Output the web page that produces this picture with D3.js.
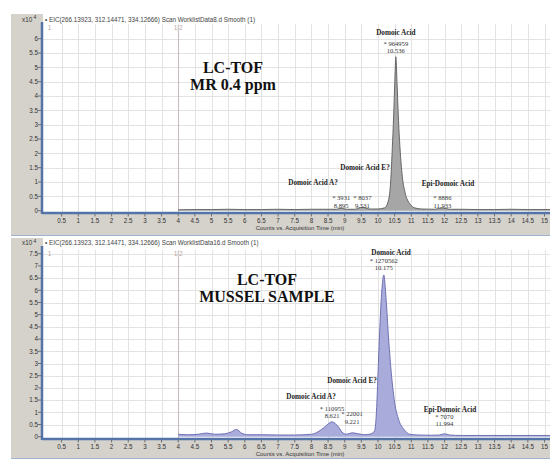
<!DOCTYPE html>
<html>
<head>
<meta charset="utf-8">
<script src="https://d3js.org/d3.v7.min.js"></script>
<style>
  body { margin: 0; background: #fff; }
  text { font-family: "Liberation Sans", Arial, sans-serif; }
  .serif { font-family: "Liberation Serif", "Times New Roman", serif; }
</style>
</head>
<body>
<svg width="550" height="459"></svg>
<script>

// chromatogram traces, time in min, counts in x10^4
var topTimes  = [4.0, 4.5, 5.0, 5.5, 6.0, 6.5, 7.0, 7.5, 8.0, 8.5, 8.75, 8.895, 9.05, 9.3, 9.531, 9.75, 10.0, 10.2, 10.3, 10.38, 10.43, 10.47, 10.505, 10.536, 10.57, 10.61, 10.66, 10.73, 10.82, 10.95, 11.1, 11.3, 11.7, 11.933, 12.15, 12.5, 13.0, 13.5, 14.0, 14.5, 15.2];
var topCounts = [0.03, 0.04, 0.04, 0.05, 0.04, 0.04, 0.05, 0.04, 0.05, 0.05, 0.05, 0.09, 0.05, 0.05, 0.12, 0.06, 0.06, 0.1, 0.3, 1.0, 2.2, 3.3, 4.5, 5.37, 4.5, 3.3, 2.2, 1.2, 0.6, 0.25, 0.1, 0.06, 0.05, 0.1, 0.05, 0.05, 0.04, 0.04, 0.05, 0.04, 0.04];

var bottomTimes  = [4.0, 4.3, 4.6, 4.85, 5.1, 5.4, 5.6, 5.75, 5.9, 6.1, 6.5, 7.0, 7.5, 8.0, 8.2, 8.4, 8.621, 8.8, 8.95, 9.05, 9.221, 9.4, 9.6, 9.8, 9.9, 9.96, 10.0, 10.04, 10.1, 10.175, 10.24, 10.32, 10.4, 10.5, 10.62, 10.78, 10.95, 11.2, 11.6, 11.85, 11.994, 12.15, 12.5, 13.0, 14.0, 15.2];
var bottomCounts = [0.1, 0.08, 0.1, 0.15, 0.1, 0.12, 0.2, 0.3, 0.15, 0.08, 0.08, 0.07, 0.07, 0.1, 0.2, 0.4, 0.61, 0.42, 0.15, 0.1, 0.16, 0.12, 0.08, 0.12, 0.25, 1.2, 2.6, 4.0, 5.7, 6.63, 5.7, 4.0, 2.6, 1.4, 0.7, 0.3, 0.1, 0.07, 0.06, 0.07, 0.12, 0.07, 0.05, 0.05, 0.05, 0.05];

// peak names, where they sit (time, counts)
var peakNames = ["Domoic Acid", "Domoic Acid E?", "Domoic Acid A?", "Epi-Domoic Acid"];
var topNameTimes = [10.536, 9.61, 8.05, 12.1];
var topNameLevels = [6.13, 1.42, 0.9, 0.86];
var bottomNameTimes = [10.39, 9.22, 7.99, 12.16];
var bottomNameLevels = [7.45, 2.2, 1.55, 1.0];

// integrated peaks: retention time, area, level of the RT label
var topPeakTimes = [8.895, 9.531, 10.536, 11.933];
var topPeakAreas = [3931, 8037, 964959, 8886];
var topPeakLevels = [0.11, 0.11, 5.5, 0.11];
var bottomPeakTimes = [8.621, 9.221, 10.175, 11.994];
var bottomPeakAreas = [110955, 22001, 1270562, 7070];
var bottomPeakLevels = [0.75, 0.54, 6.83, 0.42];

var xTickValues = [0.5, 1, 1.5, 2, 2.5, 3, 3.5, 4, 4.5, 5, 5.5, 6, 6.5, 7, 7.5, 8, 8.5, 9, 9.5, 10, 10.5, 11, 11.5, 12, 12.5, 13, 13.5, 14, 14.5, 15];
var topYTicks = [0, 0.5, 1, 1.5, 2, 2.5, 3, 3.5, 4, 4.5, 5, 5.5, 6];
var bottomYTicks = [0, 0.5, 1, 1.5, 2, 2.5, 3, 3.5, 4, 4.5, 5, 5.5, 6, 6.5, 7, 7.5];

var topTitle = "\u2022 EIC(266.13923, 312.14471, 334.12666) Scan WorklistData8.d  Smooth (1)";
var bottomTitle = "\u2022 EIC(266.13923, 312.14471, 334.12666) Scan WorklistData16.d  Smooth (1)";

var svg = d3.select("svg");
var x = d3.scaleLinear().domain([0, 15]).range([45, 544.5]);

var axisBlue = "#5474a8";

function drawPanel(p) {
  var g = svg.append("g");
  var y = p.y;

  // gray frame and white plot
  g.append("rect").attr("x", 11).attr("y", p.frameTop).attr("width", 539).attr("height", p.frameBottom - p.frameTop)
    .attr("fill", "#d5d2cc");
  g.append("rect").attr("x", 43).attr("y", p.frameTop).attr("width", 507).attr("height", p.axisY - p.frameTop)
    .attr("fill", "#fff");
  g.append("line").attr("x1", 11).attr("x2", 550).attr("y1", p.frameBottom - 0.5).attr("y2", p.frameBottom - 0.5)
    .attr("stroke", "#9fb2d2").attr("stroke-width", 1);

  // grid
  g.selectAll(".vg").data(xTickValues).enter().append("line")
    .attr("x1", function(d) { return Math.round(x(d)) + 0.5; })
    .attr("x2", function(d) { return Math.round(x(d)) + 0.5; })
    .attr("y1", p.gridTop).attr("y2", p.axisY)
    .attr("stroke", "#e3e3e3");
  g.selectAll(".hg").data(p.yTicks.slice(1)).enter().append("line")
    .attr("x1", 43).attr("x2", 550)
    .attr("y1", function(d) { return Math.round(y(d)) + 0.5; })
    .attr("y2", function(d) { return Math.round(y(d)) + 0.5; })
    .attr("stroke", "#e3e3e3");

  // marker lines
  g.append("line").attr("x1", Math.round(x(4)) + 0.5).attr("x2", Math.round(x(4)) + 0.5)
    .attr("y1", p.gridTop + 8).attr("y2", p.axisY)
    .attr("stroke", "#c9b9b9").attr("stroke-width", 1);
  g.append("text").attr("x", x(4)).attr("y", p.gridTop + 6).attr("text-anchor", "middle")
    .attr("font-size", 6.5).attr("fill", "#b9a9a9").text("1|2");
  g.append("text").attr("x", x(0.08)).attr("y", p.gridTop + 6)
    .attr("font-size", 6.5).attr("fill", "#b9a9a9").text("1");

  // trace
  var clipId = "clip" + p.frameTop;
  g.append("clipPath").attr("id", clipId).append("rect")
    .attr("x", 43).attr("y", p.frameTop).attr("width", 507).attr("height", p.axisY - p.frameTop);
  var pts = p.times.map(function(t, i) { return [t, p.counts[i]]; });
  var area = d3.area().curve(d3.curveMonotoneX)
    .x(function(d) { return x(d[0]); })
    .y0(y(0))
    .y1(function(d) { return y(d[1]); });
  var line = d3.line().curve(d3.curveMonotoneX)
    .x(function(d) { return x(d[0]); })
    .y(function(d) { return y(d[1]); });
  var tg = g.append("g").attr("clip-path", "url(#" + clipId + ")");
  tg.append("path").datum(pts).attr("d", area).attr("fill", p.fill);
  tg.append("path").datum(pts).attr("d", line).attr("fill", "none")
    .attr("stroke", p.stroke).attr("stroke-width", 0.9);

  // axes
  g.append("line").attr("x1", 42).attr("x2", 550).attr("y1", p.axisY + 1).attr("y2", p.axisY + 1)
    .attr("stroke", axisBlue).attr("stroke-width", 2.5);
  g.append("line").attr("x1", 42).attr("x2", 42).attr("y1", p.frameTop + 8).attr("y2", p.axisY + 2)
    .attr("stroke", axisBlue).attr("stroke-width", 2.5);

  g.selectAll(".xt").data(xTickValues).enter().append("line")
    .attr("x1", function(d) { return x(d); }).attr("x2", function(d) { return x(d); })
    .attr("y1", p.axisY + 2).attr("y2", p.axisY + 4.5)
    .attr("stroke", "#555").attr("stroke-width", 0.8);
  g.selectAll(".xl").data(xTickValues).enter().append("text")
    .attr("x", function(d) { return x(d); }).attr("y", p.axisY + 11)
    .attr("text-anchor", "middle").attr("font-size", 6.3).attr("fill", "#333")
    .text(function(d) { return d3.format("")(d); });
  g.append("text").attr("x", 300).attr("y", p.axisY + 18)
    .attr("text-anchor", "middle").attr("font-size", 6).attr("fill", "#333")
    .text("Counts vs. Acquisition Time (min)");

  g.selectAll(".yt").data(p.yTicks).enter().append("line")
    .attr("x1", 38).attr("x2", 41)
    .attr("y1", function(d) { return y(d); }).attr("y2", function(d) { return y(d); })
    .attr("stroke", "#555").attr("stroke-width", 0.8);
  g.selectAll(".yl").data(p.yTicks).enter().append("text")
    .attr("x", 38).attr("y", function(d) { return y(d) + 2.3; })
    .attr("text-anchor", "end").attr("font-size", 6.3).attr("fill", "#333")
    .text(function(d) { return d3.format("")(d); });

  var yl = g.append("text").attr("x", 22).attr("y", p.titleY).attr("font-size", 6.3).attr("fill", "#333");
  yl.append("tspan").text("x10");
  yl.append("tspan").attr("dy", -2.5).attr("font-size", 5).text(" 4");

  g.append("text").attr("x", 45).attr("y", p.titleY).attr("font-size", 6.3).attr("fill", "#444")
    .text(p.title);

  // peak names
  peakNames.forEach(function(n, i) {
    g.append("text").attr("class", "serif")
      .attr("x", x(p.nameTimes[i])).attr("y", y(p.nameLevels[i]))
      .attr("text-anchor", "middle").attr("font-size", 7.2).attr("font-weight", "bold").attr("fill", "#222")
      .text(n);
  });
  // peak area / RT labels
  p.peakTimes.forEach(function(t, i) {
    var ly = y(p.peakLevels[i]);
    g.append("text").attr("class", "serif")
      .attr("x", x(t)).attr("y", ly - 7.5).attr("text-anchor", "middle")
      .attr("font-size", 6.6).attr("fill", "#333").text("* " + p.peakAreas[i]);
    g.append("text").attr("class", "serif")
      .attr("x", x(t)).attr("y", ly).attr("text-anchor", "middle")
      .attr("font-size", 6.6).attr("fill", "#333").text(d3.format(".3f")(t));
  });

  // headline
  p.headline.forEach(function(h, i) {
    g.append("text").attr("class", "serif")
      .attr("x", p.headX).attr("y", p.headY + i * 17).attr("text-anchor", "middle")
      .attr("font-size", 16).attr("font-weight", "bold").attr("fill", "#111")
      .text(h);
  });
}

drawPanel({
  frameTop: 14, frameBottom: 236, axisY: 212, gridTop: 24, titleY: 21.5,
  y: d3.scaleLinear().domain([0, 6]).range([210.7, 38.7]),
  yTicks: topYTicks, times: topTimes, counts: topCounts,
  fill: "#a6a6a6", stroke: "#5a5a5a", title: topTitle,
  nameTimes: topNameTimes, nameLevels: topNameLevels,
  peakTimes: topPeakTimes, peakAreas: topPeakAreas, peakLevels: topPeakLevels,
  headline: ["LC-TOF", "MR 0.4 ppm"], headX: 233, headY: 73
});

drawPanel({
  frameTop: 238, frameBottom: 459, axisY: 438, gridTop: 250, titleY: 245,
  y: d3.scaleLinear().domain([0, 7.5]).range([436.7, 253.7]),
  yTicks: bottomYTicks, times: bottomTimes, counts: bottomCounts,
  fill: "#a9abdb", stroke: "#6466ad", title: bottomTitle,
  nameTimes: bottomNameTimes, nameLevels: bottomNameLevels,
  peakTimes: bottomPeakTimes, peakAreas: bottomPeakAreas, peakLevels: bottomPeakLevels,
  headline: ["LC-TOF", "MUSSEL SAMPLE"], headX: 267, headY: 285
});

</script>
</body>
</html>
